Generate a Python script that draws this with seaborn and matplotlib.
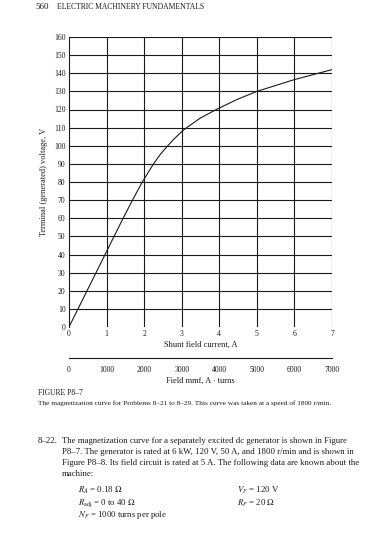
import matplotlib
matplotlib.use("Agg")
import matplotlib.pyplot as plt
import seaborn as sns
import pandas as pd

# ---- data ----
field_current = [0.0, 0.24, 0.48, 0.72, 0.96, 1.2, 1.44, 1.69, 1.95, 2.25, 2.44, 2.63, 2.78, 3.0,
                 3.1, 3.49, 3.92, 4.47, 5.0, 6.0, 7.0]
terminal_voltage = [0, 10, 20, 30, 40, 50, 60, 70, 80, 90, 95.5, 100, 103.4, 107.8,
                    109.5, 115.2, 120, 125.5, 130, 136.5, 142]
current_ticks = [0, 1, 2, 3, 4, 5, 6, 7]
voltage_ticks = [0, 10, 20, 30, 40, 50, 60, 70, 80, 90, 100, 110, 120, 130, 140, 150, 160]
mmf_ticks = [0, 1000, 2000, 3000, 4000, 5000, 6000, 7000]

sns.set_theme(style="white")
plt.rcParams['font.family'] = ['Liberation Serif', 'DejaVu Serif']
plt.rcParams['mathtext.fontset'] = 'stix'

W, H = 366, 544
fig = plt.figure(figsize=(W / 100, H / 100), dpi=100)
fig.patch.set_facecolor('white')


def frac(l, t, r, b):
    return [l / W, 1 - b / H, (r - l) / W, (b - t) / H]


ink = '#1a1a1a'

ax = fig.add_axes(frac(69, 37, 332, 327))
df = pd.DataFrame({"current": field_current, "voltage": terminal_voltage})
sns.lineplot(data=df, x="current", y="voltage", ax=ax, color=ink, lw=0.8)
ax.set_xlim(0, 7)
ax.set_ylim(0, 160)
ax.set_xticks(current_ticks)
ax.set_yticks(voltage_ticks)
for v in voltage_ticks[1:]:
    ax.axhline(v, color=ink, lw=0.8, zorder=1)
for c in current_ticks[1:]:
    ax.axvline(c, color=ink, lw=0.8, zorder=1)
for s in ['top', 'right', 'bottom']:
    ax.spines[s].set_visible(False)
ax.spines['left'].set_color(ink)
ax.spines['left'].set_linewidth(0.8)
ax.tick_params(length=0, labelsize=5.5, pad=2.5, colors=ink)
ax.set_xlabel("Shunt field current, A", fontsize=6, labelpad=1.5, color=ink)
ax.set_ylabel("Terminal (generated) voltage, V", fontsize=6, labelpad=4, color=ink)

# second scale: field mmf
ax2 = fig.add_axes(frac(69, 357.5, 332, 358))
ax2.set_xlim(0, 7000)
ax2.set_xticks(mmf_ticks)
ax2.set_yticks([])
for s in ['top', 'right', 'left']:
    ax2.spines[s].set_visible(False)
ax2.spines['bottom'].set_color(ink)
ax2.spines['bottom'].set_linewidth(0.8)
ax2.patch.set_alpha(0)
ax2.tick_params(axis='x', direction='inout', length=7, width=0.8, labelsize=5.5, pad=2.5, colors=ink)
ax2.set_xlabel("Field mmf, A \u00b7 turns", fontsize=6, labelpad=1.5, color=ink)


def ptext(x, y, s, **kw):
    kw.setdefault('fontsize', 6.3)
    kw.setdefault('color', ink)
    kw.setdefault('va', 'center')
    fig.text(x / W, 1 - y / H, s, **kw)


ptext(35, 7, "560", fontsize=6.5)
ptext(57, 7, "ELECTRIC MACHINERY FUNDAMENTALS", fontsize=5.5)

ptext(38, 393, "FIGURE P8\u20137", fontsize=5.5)
ptext(38, 403, "The magnetization curve for Problems 8\u201321 to 8\u201329. This curve was taken at a speed of 1800 r/min.",
      fontsize=5.2)

ptext(38, 441, "8\u201322.", fontsize=6.3)
ptext(62, 441, "The magnetization curve for a separately excited dc generator is shown in Figure")
ptext(62, 452, "P8\u20137. The generator is rated at 6 kW, 120 V, 50 A, and 1800 r/min and is shown in")
ptext(62, 463, "Figure P8\u20138. Its field circuit is rated at 5 A. The following data are known about the")
ptext(62, 474, "machine:")

ptext(78, 490, r"$R_A$ = 0.18 $\Omega$")
ptext(237, 490, r"$V_F$ = 120 V")
ptext(78, 503, r"$R_{\mathrm{adj}}$ = 0 to 40 $\Omega$")
ptext(237, 503, r"$R_F$ = 20 $\Omega$")
ptext(78, 515, r"$N_F$ = 1000 turns per pole")

fig.savefig("out.png", dpi=100, facecolor='white')
